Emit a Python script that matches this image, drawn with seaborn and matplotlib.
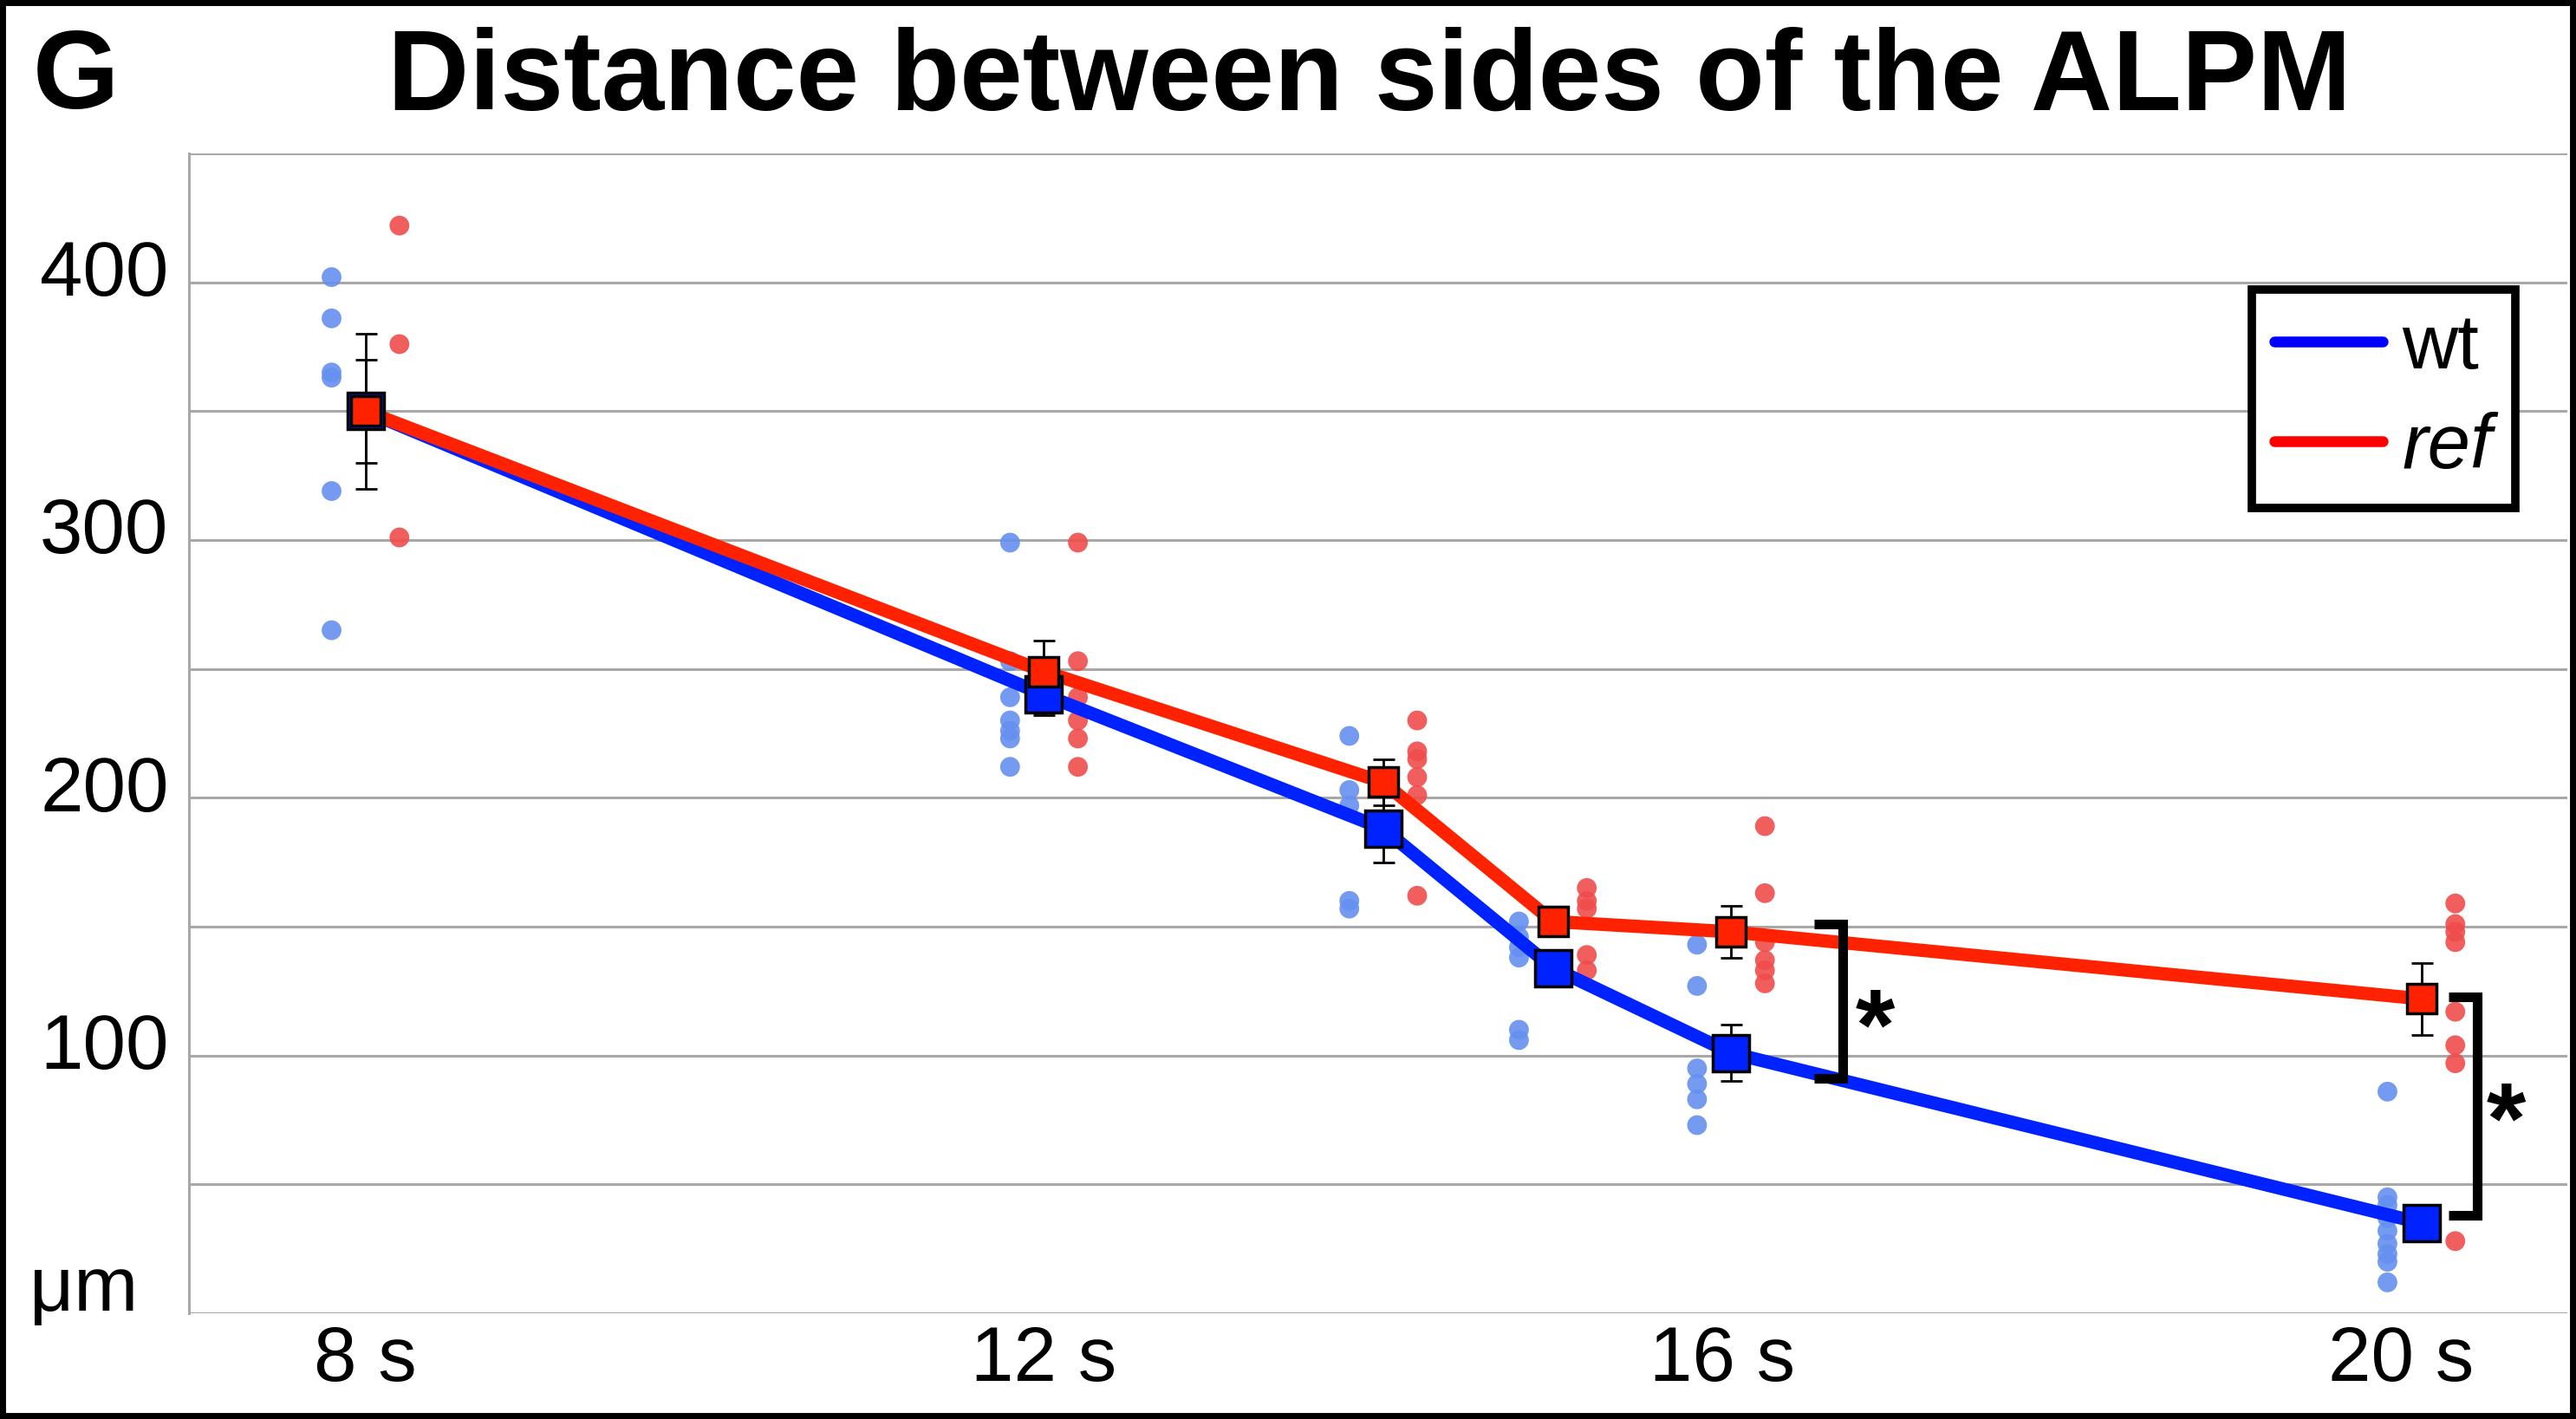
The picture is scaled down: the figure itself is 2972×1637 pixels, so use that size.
import numpy as np
import pandas as pd
import matplotlib.pyplot as plt
import seaborn as sns
from matplotlib.lines import Line2D
from matplotlib.patches import Rectangle
from matplotlib.transforms import ScaledTranslation

# stage positions (somite stage)
stages = [8, 12, 14, 15, 16.05, 20.12]
tick_pos = [8, 12, 16, 20]
tick_labels = ['8 s', '12 s', '16 s', '20 s']

wt_mean = [350, 240, 188, 134, 101, 35]
wt_err = [30, 8, 13, 3, 11, 7]
ref_mean = [350, 249, 206, 152, 148, 122]
ref_err = [20, 12, 9, 3, 10, 14]

wt_points = [
    [402, 386, 365, 363, 319, 265],
    [299, 253, 239, 230, 226, 223, 212],
    [224, 203, 197, 160, 157],
    [152, 146, 142, 138, 110, 106],
    [143, 127, 95, 89, 83, 73],
    [86, 45, 42, 37, 32, 27, 23, 20, 12],
]
ref_points = [
    [422, 376, 301],
    [299, 253, 239, 230, 223, 212],
    [230, 218, 215, 208, 201, 162],
    [165, 160, 157, 139, 133],
    [189, 163, 144, 137, 133, 128],
    [159, 151, 148, 144, 117, 104, 97, 28],
]

# significance brackets: (x left, x right, low, high, star x, star y)
sig_brackets = [
    (16.54, 16.71, 91, 151, 16.9, 121),
    (20.28, 20.45, 38, 122.6, 20.62, 85),
]

rows = []
for g, pts in [('wt', wt_points), ('ref', ref_points)]:
    for x, vals in zip(stages, pts):
        for v in vals:
            rows.append({'stage': x, 'genotype': g, 'value': v})
df = pd.DataFrame(rows)
df['xpos'] = df['stage'] + df['genotype'].map({'wt': -0.2, 'ref': 0.2})

means = pd.DataFrame({
    'stage': stages * 2,
    'genotype': ['wt'] * len(stages) + ['ref'] * len(stages),
    'value': wt_mean + ref_mean,
    'err': wt_err + ref_err,
})

sns.set_style('white')
plt.rcParams['font.family'] = ['Liberation Sans', 'DejaVu Sans']
plt.rcParams['text.color'] = 'black'

fig = plt.figure(figsize=(29.72, 16.37), dpi=100)
ax = fig.add_axes([0.0734, 0.0745, 0.9232, 0.8174])

sns.scatterplot(data=df, x='xpos', y='value', hue='genotype',
                palette={'wt': '#6690f0', 'ref': '#f04c4c'},
                s=270, linewidth=0, alpha=0.9, legend=False, ax=ax, zorder=3)

line_colors = {'wt': '#0022ff', 'ref': '#ff2200'}
marker_sizes = {'wt': 30, 'ref': 24}
for i, g in enumerate(['wt', 'ref']):
    sub = means[means.genotype == g]
    sns.lineplot(data=sub, x='stage', y='value', color=line_colors[g], lw=11,
                 ax=ax, zorder=4 + i * 0.5)
    ax.errorbar(sub['stage'], sub['value'], yerr=sub['err'], fmt='none',
                ecolor='black', elinewidth=2, capsize=9, capthick=2, zorder=5)
    ax.plot(sub['stage'], sub['value'], ls='none', marker='s',
            ms=marker_sizes[g], mfc=line_colors[g], mec='black', mew=2.5,
            zorder=6 + i * 0.5)

# brackets with stars
star_size = 84
star_shift = ScaledTranslation(0, -0.58 * star_size / 72, fig.dpi_scale_trans)
for x0, x1, lo, hi, sx, sy in sig_brackets:
    ax.plot([x0, x1, x1, x0], [hi, hi, lo, lo], color='black', lw=8,
            solid_joinstyle='miter', solid_capstyle='butt', zorder=7)
    ax.text(sx, sy, '*', fontsize=star_size, fontweight='bold', ha='center',
            va='baseline', transform=ax.transData + star_shift, zorder=7)

ax.set_xlim(6.96, 20.98)
ax.set_ylim(0, 450)
ax.set_xticks(tick_pos, tick_labels)
yt = list(range(0, 451, 50))
ax.set_yticks(yt, [str(v) if v % 100 == 0 and v > 0 else '' for v in yt])
ax.yaxis.grid(True, color='#a8a8a8', lw=2.2)
ax.set_axisbelow(True)
for s in ['top', 'right', 'bottom']:
    ax.spines[s].set_visible(False)
ax.spines['left'].set_color('#a8a8a8')
ax.spines['left'].set_linewidth(2.2)
ax.tick_params(axis='y', length=8, width=2.2, color='#a8a8a8', labelsize=64,
               pad=9, labelcolor='black')
ax.tick_params(axis='x', length=0, labelsize=64, pad=9, labelcolor='black')
ax.set_xlabel('')
ax.set_ylabel('')
for lab in ax.get_yticklabels():
    lab.set_transform(lab.get_transform() + ScaledTranslation(0, 0.17, fig.dpi_scale_trans))

handles = [Line2D([], [], color='#0000ff', lw=9), Line2D([], [], color='#ff0000', lw=9)]
leg = ax.legend(handles, ['wt', 'ref'], loc='upper right', bbox_to_anchor=(0.978, 0.883),
                borderaxespad=0, fontsize=64, frameon=True, fancybox=False, framealpha=1,
                borderpad=0.3, handlelength=1.4, handletextpad=0.25, labelspacing=0.35)
leg.get_frame().set_edgecolor('black')
leg.get_frame().set_linewidth(7)
for t in leg.get_texts():
    t.set_color('black')
leg.get_texts()[1].set_fontstyle('italic')
leg.set_zorder(10)

fig.text(0.5317, 0.944, 'Distance between sides of the ALPM', fontsize=94,
         fontweight='bold', ha='center', va='center')
fig.text(0.0128, 0.944, 'G', fontsize=92, fontweight='bold', ha='left', va='center')
fig.text(0.0326, 0.0764, 'μm', fontsize=64, ha='center', va='baseline')

fig.add_artist(Rectangle((0, 0), 1, 1, transform=fig.transFigure, fill=False,
                         lw=10, ec='black', clip_on=False))

fig.savefig('out.png', dpi=100)
